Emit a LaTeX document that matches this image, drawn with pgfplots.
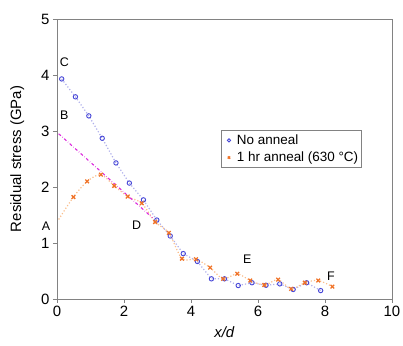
\documentclass[border=0pt]{standalone}
\usepackage{pgfplots}
\pgfplotsset{compat=1.18}
\usepackage{fontspec}
\setmainfont{Liberation Sans}
\definecolor{cblue}{RGB}{70,70,215}
\definecolor{lblue}{RGB}{175,175,235}
\definecolor{corange}{RGB}{240,115,40}
\definecolor{lorange}{RGB}{250,190,140}
\definecolor{cmag}{RGB}{220,40,220}
\definecolor{frame}{RGB}{130,130,130}
\begin{document}
\begin{tikzpicture}
\begin{axis}[
  name=ax,
  scale only axis,
  width=335bp, height=280bp,
  xmin=0, xmax=10, ymin=0, ymax=5,
  xtick={0,2,4,6,8,10}, ytick={0,1,2,3,4,5},
  tick align=outside, tick pos=left,
  major tick length=4bp,
  axis line style={frame, line width=0.8pt},
  every tick/.style={frame, line width=0.6pt},
  tick label style={font=\fontsize{15}{15}\selectfont},
  /pgf/number format/assume math mode=true,
  xlabel={\textit{x/d}},
  ylabel={Residual stress (GPa)},
  label style={font=\fontsize{15}{15}\selectfont},
  xlabel style={yshift=-3bp},
  ylabel style={yshift=10bp},
  legend style={at={(0.49,0.602)}, anchor=north west, draw=frame, line width=0.6pt,
    font=\fontsize{13.5}{13.5}\selectfont, inner xsep=2bp, inner ysep=2.5bp, row sep=3bp,
    legend cell align=left, nodes={inner sep=1.5bp}},
  legend image code/.code={\path[draw=none,fill=none] (0,0) (12bp,0);
    \draw[#1, mark size=1.6bp] plot coordinates {(5.5bp,0)};},
  clip=false,
]
% trend lines
\addplot[lblue, dotted, line width=1.2pt, forget plot] coordinates {
(0.14,3.93)(0.55,3.61)(0.95,3.27)(1.35,2.87)(1.76,2.43)(2.16,2.07)(2.58,1.77)(2.98,1.41)(3.38,1.125)(3.77,0.81)(4.19,0.67)(4.61,0.36)(5.0,0.36)(5.41,0.24)(5.82,0.29)(6.24,0.245)(6.65,0.27)(7.05,0.17)(7.45,0.29)(7.87,0.15)};
\addplot[lorange, dotted, line width=1.2pt, smooth, tension=0.5, forget plot] coordinates {
(0.05,1.42)(0.49,1.82)(0.9,2.1)(1.31,2.22)(1.71,2.02)(2.11,1.83)(2.53,1.71)(2.93,1.375)(3.34,1.18)(3.73,0.72)(4.15,0.71)(4.57,0.56)(4.96,0.36)(5.38,0.45)(5.77,0.33)(6.19,0.25)(6.6,0.345)(6.99,0.18)(7.4,0.29)(7.8,0.33)(8.22,0.22)};
\addplot[cmag, dash dot, line width=1.1pt, forget plot] coordinates {(0.05,2.95)(2.85,1.45)};
% data
\addplot[only marks, mark=o, mark size=2.2bp, mark options={cblue, line width=0.9pt}] coordinates {
(0.14,3.93)(0.55,3.61)(0.95,3.27)(1.35,2.87)(1.76,2.43)(2.16,2.07)(2.58,1.77)(2.98,1.41)(3.38,1.125)(3.77,0.81)(4.19,0.67)(4.61,0.36)(5.0,0.36)(5.41,0.24)(5.82,0.29)(6.24,0.245)(6.65,0.27)(7.05,0.17)(7.45,0.29)(7.87,0.15)};
\addlegendentry{No anneal}
\addplot[only marks, mark=x, mark size=2.6bp, mark options={corange, line width=1.3pt}] coordinates {
(0.49,1.82)(0.9,2.1)(1.31,2.22)(1.71,2.02)(2.11,1.83)(2.53,1.71)(2.93,1.375)(3.34,1.18)(3.73,0.72)(4.15,0.71)(4.57,0.56)(4.96,0.36)(5.38,0.45)(5.77,0.33)(6.19,0.25)(6.6,0.345)(6.99,0.18)(7.4,0.29)(7.8,0.33)(8.22,0.22)};
\addlegendentry{1 hr anneal (630 °C)}
% labels
\node[font=\fontsize{12.5}{12.5}\selectfont] at (axis cs:0.22,4.22) {C};
\node[font=\fontsize{12.5}{12.5}\selectfont] at (axis cs:0.22,3.29) {B};
\node[font=\fontsize{12.5}{12.5}\selectfont] at (axis cs:-0.33,1.30) {A};
\node[font=\fontsize{12.5}{12.5}\selectfont] at (axis cs:2.38,1.31) {D};
\node[font=\fontsize{12.5}{12.5}\selectfont] at (axis cs:5.68,0.71) {E};
\node[font=\fontsize{12.5}{12.5}\selectfont] at (axis cs:8.18,0.40) {F};
\end{axis}
\pgfresetboundingbox
\useasboundingbox ([xshift=-57bp,yshift=-47bp]ax.south west) rectangle ([xshift=11bp,yshift=19bp]ax.north east);
\end{tikzpicture}
\end{document}
